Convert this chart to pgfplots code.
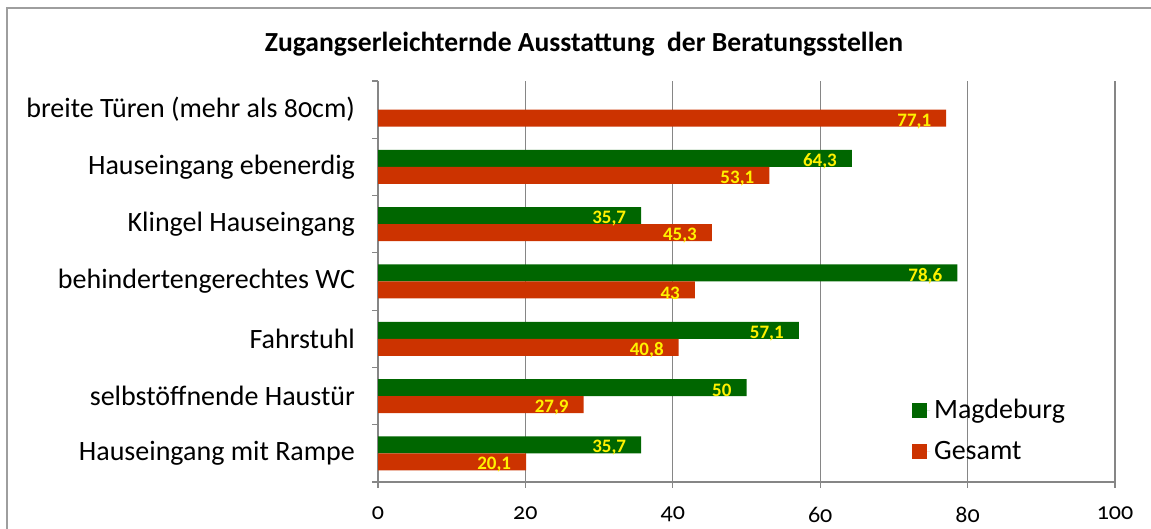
\documentclass[border=0pt]{standalone}
\usepackage{fontspec}
\setmainfont{Carlito}[Numbers=OldStyle]
\newfontfamily\liningfont{Carlito}
\usepackage{pgfplots}
\pgfplotsset{compat=1.18}
\definecolor{mgreen}{RGB}{0,102,0}
\definecolor{gred}{RGB}{204,51,0}
\definecolor{gridgray}{RGB}{134,134,134}
\begin{document}
\begin{tikzpicture}
\path[use as bounding box] (0,0) rectangle (575.5pt,264.5pt);
\clip (0,0) rectangle (575.5pt,264.5pt);
\draw[gridgray!80, line width=1.2pt] (3.5pt,-10pt) -- (3.5pt,260.5pt) -- (600pt,260.5pt);
\node[font=\bfseries\fontsize{13.8}{15}\selectfont] at (292pt,242.5pt) {Zugangserleichternde Ausstattung~ der Beratungsstellen};
\begin{axis}[
  at={(189pt,23.5pt)}, anchor=south west, scale only axis,
  width=368.5pt, height=200.5pt,
  xbar, bar width=8.5pt,
  xmin=0, xmax=100, ymin=-0.5, ymax=6.5,
  xtick={0,20,...,100},
  ytick={-0.5,0.5,...,6.5}, yticklabels={},
  extra y ticks={0,1,2,3,4,5,6},
  extra y tick labels={Hauseingang mit Rampe,selbstöffnende Haustür,Fahrstuhl,behindertengerechtes WC,Klingel Hauseingang,Hauseingang ebenerdig,breite Türen (mehr als 80cm)},
  extra y tick style={tick style={draw=none}},
  xmajorgrids, major grid style={gridgray, line width=0.6pt},
  axis x line*=bottom, axis y line*=left,
  axis line style={gridgray, line width=0.6pt},
  tick align=outside, major tick length=3pt,
  tick style={gridgray, line width=0.6pt},
  /pgf/number format/assume math mode=true,
  xticklabel style={font=\fontsize{12}{14}\selectfont, yshift=-6pt},
  yticklabel style={font=\fontsize{14}{16}\selectfont, xshift=-5pt},
  nodes near coords={\pgfmathprintnumber[use comma,fixed,precision=1]{\pgfplotspointmeta}},
  every node near coord/.append style={anchor=east, xshift=-4pt, yshift=-1.5pt, text=yellow, font=\liningfont\bfseries\fontsize{9.5}{10}\selectfont},
  legend style={at={(0.716,0.228)}, anchor=north west, draw=none, fill=none, font=\fontsize{14}{16}\selectfont, row sep=6pt},
  legend cell align=left,
  legend image code/.code={\fill[#1] (0pt,-3.75pt) rectangle (7.5pt,3.75pt); \path (0pt,0pt) -- (9pt,0pt);},
]
\addplot[fill=mgreen, draw=none, bar shift=4.25pt] coordinates {(35.7,0) (50,1) (57.1,2) (78.6,3) (35.7,4) (64.3,5)};
\addplot[fill=gred, draw=none, bar shift=-4.25pt] coordinates {(20.1,0) (27.9,1) (40.8,2) (43,3) (45.3,4) (53.1,5) (77.1,6)};
\legend{Magdeburg,Gesamt}
\end{axis}
\end{tikzpicture}
\end{document}
